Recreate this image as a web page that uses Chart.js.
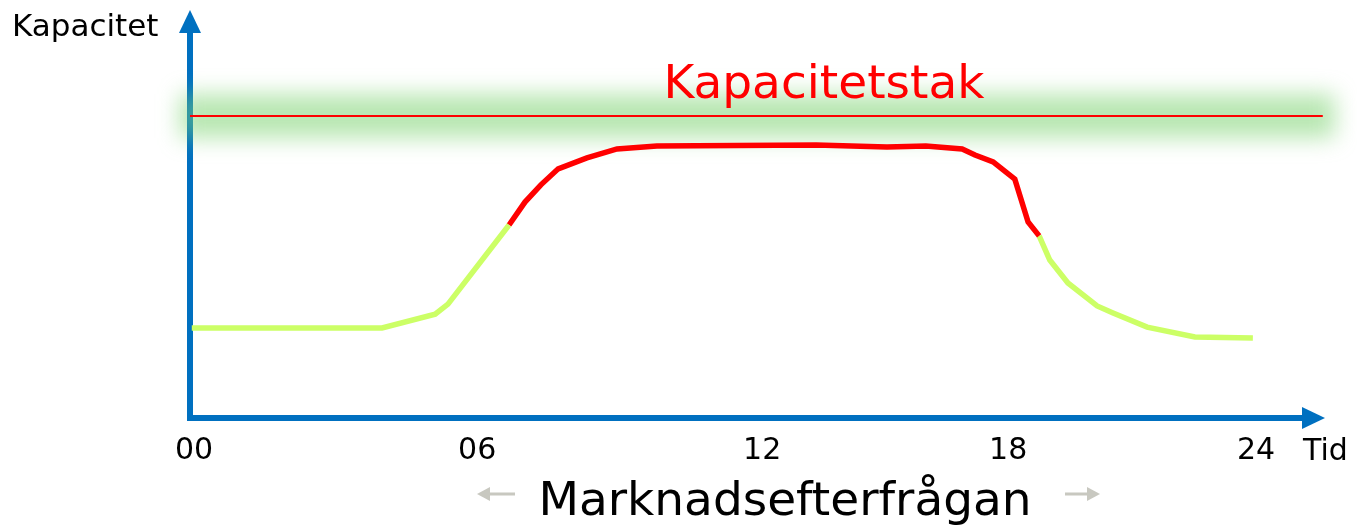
<!DOCTYPE html>
<html>
<head>
<meta charset="utf-8">
<script src="https://cdn.jsdelivr.net/npm/chart.js@4/dist/chart.umd.min.js"></script>
<style>
  html, body { margin: 0; padding: 0; background: #fff; }
  #wrap { width: 1357px; height: 526px; position: relative; }
</style>
</head>
<body>
<div id="wrap"><canvas id="chart"></canvas></div>
<script>
// Capacity vs market demand over a day (schematic)

// tick labels and where they sit on the time axis (hours)
const tickLabels = ["00", "06", "12", "18", "24"];
const tickHours = [0, 6.4, 12.84, 18.4, 24];

// demand before the morning peak
const lowMorningHours = [-0.05, 4.25, 5.45, 5.74, 7.12];
const lowMorningValues = [29.8, 29.8, 34.4, 37.7, 63.9];

// demand near the cap (red)
const peakHours = [7.12, 7.48, 7.84, 8.23, 8.88, 9.56, 10.46, 14.06, 15.66, 16.54, 17.36, 17.65, 18.06, 18.55, 18.85, 19.1];
const peakValues = [63.9, 71.5, 77.2, 82.5, 86.1, 89.1, 90.1, 90.4, 89.7, 90.1, 89.1, 87.1, 84.8, 79.1, 64.9, 60.3];

// demand in the evening
const lowEveningHours = [19.1, 19.34, 19.75, 20.41, 20.77, 21.54, 22.62, 23.93];
const lowEveningValues = [60.3, 52.3, 44.7, 37.1, 34.8, 30.1, 26.8, 26.5];

// capacity ceiling
const capHours = [-0.09, 25.51];
const capValues = [100, 100];

const FONT = "'DejaVu Sans', Verdana, sans-serif";
const AXIS_BLUE = "#0070c0";

function toPoints(xs, ys) {
  return xs.map((x, i) => ({ x, y: ys[i] }));
}

// axes with arrows + glow behind the cap line
const backdrop = {
  id: "backdrop",
  beforeDatasetsDraw(chart) {
    const { ctx, chartArea: a, scales } = chart;
    ctx.save();
    ctx.strokeStyle = AXIS_BLUE;
    ctx.fillStyle = AXIS_BLUE;
    ctx.lineWidth = 6;

    // y axis
    ctx.beginPath();
    ctx.moveTo(a.left, a.bottom + 3);
    ctx.lineTo(a.left, a.top + 22);
    ctx.stroke();
    ctx.beginPath();
    ctx.moveTo(a.left, a.top);
    ctx.lineTo(a.left - 11, a.top + 23);
    ctx.lineTo(a.left + 11, a.top + 23);
    ctx.closePath();
    ctx.fill();

    // x axis
    ctx.beginPath();
    ctx.moveTo(a.left - 3, a.bottom);
    ctx.lineTo(a.right - 22, a.bottom);
    ctx.stroke();
    ctx.beginPath();
    ctx.moveTo(a.right, a.bottom);
    ctx.lineTo(a.right - 23, a.bottom - 11);
    ctx.lineTo(a.right - 23, a.bottom + 11);
    ctx.closePath();
    ctx.fill();

    // soft green band around the ceiling
    const x1 = scales.x.getPixelForValue(capHours[0]);
    const x2 = scales.x.getPixelForValue(capHours[1]);
    const yc = scales.y.getPixelForValue(capValues[0]);
    ctx.filter = "blur(11px)";
    ctx.fillStyle = "rgba(125, 212, 115, 0.55)";
    ctx.fillRect(x1 - 10, yc - 22, x2 - x1 + 22, 44);
    ctx.filter = "none";
    ctx.restore();
  },
  afterDraw(chart) {
    const { ctx } = chart;
    ctx.save();
    ctx.textBaseline = "alphabetic";

    ctx.fillStyle = "#000";
    ctx.font = "31px " + FONT;
    ctx.textAlign = "left";
    ctx.fillText("Kapacitet", 12, 36);

    ctx.font = "30px " + FONT;
    ctx.fillText("Tid", 1303, 460);

    ctx.fillStyle = "#ff0000";
    ctx.font = "47px " + FONT;
    ctx.textAlign = "center";
    ctx.fillText("Kapacitetstak", 824, 98);

    ctx.fillStyle = "#000";
    ctx.fillText("Marknadsefterfrågan", 785, 515);

    // little grey arrows either side of the title
    ctx.strokeStyle = "#c8c8c0";
    ctx.fillStyle = "#c8c8c0";
    ctx.lineWidth = 3;
    ctx.beginPath();
    ctx.moveTo(486, 494);
    ctx.lineTo(515, 494);
    ctx.moveTo(1065, 494);
    ctx.lineTo(1090, 494);
    ctx.stroke();
    ctx.beginPath();
    ctx.moveTo(477, 494);
    ctx.lineTo(490, 487);
    ctx.lineTo(490, 501);
    ctx.closePath();
    ctx.fill();
    ctx.beginPath();
    ctx.moveTo(1100, 494);
    ctx.lineTo(1087, 487);
    ctx.lineTo(1087, 501);
    ctx.closePath();
    ctx.fill();
    ctx.restore();
  },
};

new Chart(document.getElementById("chart"), {
  type: "line",
  data: {
    datasets: [
      {
        label: "Kapacitetstak",
        data: toPoints(capHours, capValues),
        borderColor: "#ff0000",
        borderWidth: 2,
        pointRadius: 0,
      },
      {
        label: "low-morning",
        data: toPoints(lowMorningHours, lowMorningValues),
        borderColor: "#ccff66",
        borderWidth: 5.5,
        pointRadius: 0,
      },
      {
        label: "peak",
        data: toPoints(peakHours, peakValues),
        borderColor: "#ff0000",
        borderWidth: 5.5,
        pointRadius: 0,
      },
      {
        label: "low-evening",
        data: toPoints(lowEveningHours, lowEveningValues),
        borderColor: "#ccff66",
        borderWidth: 5.5,
        pointRadius: 0,
      },
    ],
  },
  options: {
    responsive: true,
    maintainAspectRatio: false,
    animation: false,
    events: [],
    layout: { padding: { left: 190, right: 32, top: 10, bottom: 0 } },
    plugins: {
      legend: { display: false },
      tooltip: { enabled: false },
    },
    elements: { line: { tension: 0, fill: false } },
    scales: {
      x: {
        type: "linear",
        min: -0.09,
        max: 25.56,
        grid: { display: false, drawTicks: false },
        border: { display: false },
        afterBuildTicks: (scale) => {
          scale.ticks = tickHours.map((v) => ({ value: v }));
        },
        afterFit: (scale) => {
          scale.height = 108;
        },
        ticks: {
          autoSkip: false,
          maxRotation: 0,
          padding: 15,
          color: "#000",
          font: { family: FONT, size: 30 },
          callback: (value, index) => tickLabels[index],
        },
      },
      y: {
        display: false,
        min: 0,
        max: 135.1,
      },
    },
  },
  plugins: [backdrop],
});
</script>
</body>
</html>
